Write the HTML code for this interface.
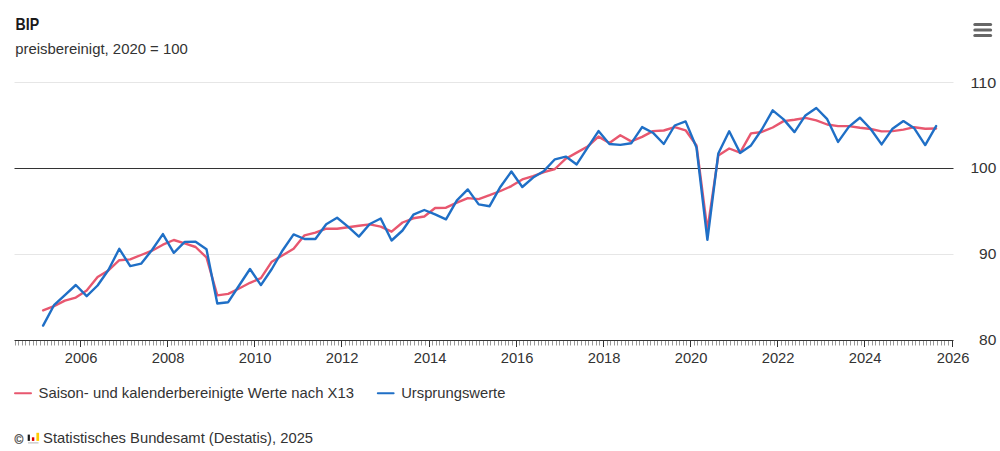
<!DOCTYPE html>
<html><head><meta charset="utf-8"><style>
html,body{margin:0;padding:0;background:#fff;}
body{width:1000px;height:451px;overflow:hidden;}
svg{display:block;font-family:"Liberation Sans", sans-serif;}
</style></head><body>
<svg width="1000" height="451" viewBox="0 0 1000 451">
<rect x="0" y="0" width="1000" height="451" fill="#ffffff"/>
<text x="15.5" y="29.7" font-size="16.6" font-weight="bold" fill="#1a1a1a" textLength="23.6" lengthAdjust="spacingAndGlyphs">BIP</text>
<text x="15.2" y="54.4" font-size="14.6" fill="#333333" textLength="172.6" lengthAdjust="spacingAndGlyphs">preisbereinigt, 2020 = 100</text>
<g fill="#666666">
<rect x="973.3" y="22.9" width="18.8" height="3" rx="1.5"/>
<rect x="973.3" y="28.5" width="18.8" height="3" rx="1.5"/>
<rect x="973.3" y="34.1" width="18.8" height="3" rx="1.5"/>
</g>
<g stroke="#e6e6e6" stroke-width="1" fill="none">
<path d="M 14.5 82.5 H 953.5"/>
<path d="M 14.5 254.5 H 953.5"/>
</g>
<path d="M 14.5 168.5 H 953.5" stroke="#333333" stroke-width="1"/>
<g font-size="14" fill="#333333">

<text x="996.3" y="87.7" text-anchor="end" textLength="25.8" lengthAdjust="spacingAndGlyphs">110</text>
<text x="996.3" y="173.4" text-anchor="end" textLength="25.8" lengthAdjust="spacingAndGlyphs">100</text>
<text x="996.3" y="259.4" text-anchor="end" textLength="17.3" lengthAdjust="spacingAndGlyphs">90</text>
<text x="996.3" y="345.3" text-anchor="end" textLength="17.3" lengthAdjust="spacingAndGlyphs">80</text>

<text x="81.1" y="363.2" text-anchor="middle" textLength="32.8" lengthAdjust="spacingAndGlyphs">2006</text>
<text x="168.1" y="363.2" text-anchor="middle" textLength="32.8" lengthAdjust="spacingAndGlyphs">2008</text>
<text x="255.1" y="363.2" text-anchor="middle" textLength="32.8" lengthAdjust="spacingAndGlyphs">2010</text>
<text x="342.1" y="363.2" text-anchor="middle" textLength="32.8" lengthAdjust="spacingAndGlyphs">2012</text>
<text x="430.1" y="363.2" text-anchor="middle" textLength="32.8" lengthAdjust="spacingAndGlyphs">2014</text>
<text x="517.1" y="363.2" text-anchor="middle" textLength="32.8" lengthAdjust="spacingAndGlyphs">2016</text>
<text x="604.1" y="363.2" text-anchor="middle" textLength="32.8" lengthAdjust="spacingAndGlyphs">2018</text>
<text x="691.1" y="363.2" text-anchor="middle" textLength="32.8" lengthAdjust="spacingAndGlyphs">2020</text>
<text x="778.1" y="363.2" text-anchor="middle" textLength="32.8" lengthAdjust="spacingAndGlyphs">2022</text>
<text x="865.1" y="363.2" text-anchor="middle" textLength="32.8" lengthAdjust="spacingAndGlyphs">2024</text>
<text x="953.1" y="363.2" text-anchor="middle" textLength="32.8" lengthAdjust="spacingAndGlyphs">2026</text>
</g>
<path d="M 15.5 340 V 345.5 M 18.5 340 V 345.5 M 22.5 340 V 345.5 M 25.5 340 V 345.5 M 29.5 340 V 345.5 M 33.5 340 V 345.5 M 36.5 340 V 345.5 M 40.5 340 V 345.5 M 44.5 340 V 345.5 M 47.5 340 V 345.5 M 51.5 340 V 345.5 M 54.5 340 V 345.5 M 58.5 340 V 345.5 M 62.5 340 V 345.5 M 65.5 340 V 345.5 M 69.5 340 V 345.5 M 73.5 340 V 345.5 M 76.5 340 V 345.5 M 84.5 340 V 345.5 M 87.5 340 V 345.5 M 91.5 340 V 345.5 M 94.5 340 V 345.5 M 98.5 340 V 345.5 M 102.5 340 V 345.5 M 105.5 340 V 345.5 M 109.5 340 V 345.5 M 113.5 340 V 345.5 M 116.5 340 V 345.5 M 120.5 340 V 345.5 M 123.5 340 V 345.5 M 127.5 340 V 345.5 M 131.5 340 V 345.5 M 134.5 340 V 345.5 M 138.5 340 V 345.5 M 142.5 340 V 345.5 M 145.5 340 V 345.5 M 149.5 340 V 345.5 M 153.5 340 V 345.5 M 156.5 340 V 345.5 M 160.5 340 V 345.5 M 163.5 340 V 345.5 M 171.5 340 V 345.5 M 174.5 340 V 345.5 M 178.5 340 V 345.5 M 182.5 340 V 345.5 M 185.5 340 V 345.5 M 189.5 340 V 345.5 M 192.5 340 V 345.5 M 196.5 340 V 345.5 M 200.5 340 V 345.5 M 203.5 340 V 345.5 M 207.5 340 V 345.5 M 211.5 340 V 345.5 M 214.5 340 V 345.5 M 218.5 340 V 345.5 M 222.5 340 V 345.5 M 225.5 340 V 345.5 M 229.5 340 V 345.5 M 232.5 340 V 345.5 M 236.5 340 V 345.5 M 240.5 340 V 345.5 M 243.5 340 V 345.5 M 247.5 340 V 345.5 M 251.5 340 V 345.5 M 258.5 340 V 345.5 M 262.5 340 V 345.5 M 265.5 340 V 345.5 M 269.5 340 V 345.5 M 272.5 340 V 345.5 M 276.5 340 V 345.5 M 280.5 340 V 345.5 M 283.5 340 V 345.5 M 287.5 340 V 345.5 M 291.5 340 V 345.5 M 294.5 340 V 345.5 M 298.5 340 V 345.5 M 301.5 340 V 345.5 M 305.5 340 V 345.5 M 309.5 340 V 345.5 M 312.5 340 V 345.5 M 316.5 340 V 345.5 M 320.5 340 V 345.5 M 323.5 340 V 345.5 M 327.5 340 V 345.5 M 331.5 340 V 345.5 M 334.5 340 V 345.5 M 338.5 340 V 345.5 M 345.5 340 V 345.5 M 349.5 340 V 345.5 M 352.5 340 V 345.5 M 356.5 340 V 345.5 M 360.5 340 V 345.5 M 363.5 340 V 345.5 M 367.5 340 V 345.5 M 370.5 340 V 345.5 M 374.5 340 V 345.5 M 378.5 340 V 345.5 M 381.5 340 V 345.5 M 385.5 340 V 345.5 M 389.5 340 V 345.5 M 392.5 340 V 345.5 M 396.5 340 V 345.5 M 400.5 340 V 345.5 M 403.5 340 V 345.5 M 407.5 340 V 345.5 M 410.5 340 V 345.5 M 414.5 340 V 345.5 M 418.5 340 V 345.5 M 421.5 340 V 345.5 M 425.5 340 V 345.5 M 432.5 340 V 345.5 M 436.5 340 V 345.5 M 439.5 340 V 345.5 M 443.5 340 V 345.5 M 447.5 340 V 345.5 M 450.5 340 V 345.5 M 454.5 340 V 345.5 M 458.5 340 V 345.5 M 461.5 340 V 345.5 M 465.5 340 V 345.5 M 469.5 340 V 345.5 M 472.5 340 V 345.5 M 476.5 340 V 345.5 M 479.5 340 V 345.5 M 483.5 340 V 345.5 M 487.5 340 V 345.5 M 490.5 340 V 345.5 M 494.5 340 V 345.5 M 498.5 340 V 345.5 M 501.5 340 V 345.5 M 505.5 340 V 345.5 M 508.5 340 V 345.5 M 512.5 340 V 345.5 M 519.5 340 V 345.5 M 523.5 340 V 345.5 M 527.5 340 V 345.5 M 530.5 340 V 345.5 M 534.5 340 V 345.5 M 538.5 340 V 345.5 M 541.5 340 V 345.5 M 545.5 340 V 345.5 M 548.5 340 V 345.5 M 552.5 340 V 345.5 M 556.5 340 V 345.5 M 559.5 340 V 345.5 M 563.5 340 V 345.5 M 567.5 340 V 345.5 M 570.5 340 V 345.5 M 574.5 340 V 345.5 M 577.5 340 V 345.5 M 581.5 340 V 345.5 M 585.5 340 V 345.5 M 588.5 340 V 345.5 M 592.5 340 V 345.5 M 596.5 340 V 345.5 M 599.5 340 V 345.5 M 607.5 340 V 345.5 M 610.5 340 V 345.5 M 614.5 340 V 345.5 M 617.5 340 V 345.5 M 621.5 340 V 345.5 M 625.5 340 V 345.5 M 628.5 340 V 345.5 M 632.5 340 V 345.5 M 636.5 340 V 345.5 M 639.5 340 V 345.5 M 643.5 340 V 345.5 M 647.5 340 V 345.5 M 650.5 340 V 345.5 M 654.5 340 V 345.5 M 657.5 340 V 345.5 M 661.5 340 V 345.5 M 665.5 340 V 345.5 M 668.5 340 V 345.5 M 672.5 340 V 345.5 M 676.5 340 V 345.5 M 679.5 340 V 345.5 M 683.5 340 V 345.5 M 686.5 340 V 345.5 M 694.5 340 V 345.5 M 697.5 340 V 345.5 M 701.5 340 V 345.5 M 705.5 340 V 345.5 M 708.5 340 V 345.5 M 712.5 340 V 345.5 M 716.5 340 V 345.5 M 719.5 340 V 345.5 M 723.5 340 V 345.5 M 726.5 340 V 345.5 M 730.5 340 V 345.5 M 734.5 340 V 345.5 M 737.5 340 V 345.5 M 741.5 340 V 345.5 M 745.5 340 V 345.5 M 748.5 340 V 345.5 M 752.5 340 V 345.5 M 755.5 340 V 345.5 M 759.5 340 V 345.5 M 763.5 340 V 345.5 M 766.5 340 V 345.5 M 770.5 340 V 345.5 M 774.5 340 V 345.5 M 781.5 340 V 345.5 M 785.5 340 V 345.5 M 788.5 340 V 345.5 M 792.5 340 V 345.5 M 795.5 340 V 345.5 M 799.5 340 V 345.5 M 803.5 340 V 345.5 M 806.5 340 V 345.5 M 810.5 340 V 345.5 M 814.5 340 V 345.5 M 817.5 340 V 345.5 M 821.5 340 V 345.5 M 824.5 340 V 345.5 M 828.5 340 V 345.5 M 832.5 340 V 345.5 M 835.5 340 V 345.5 M 839.5 340 V 345.5 M 843.5 340 V 345.5 M 846.5 340 V 345.5 M 850.5 340 V 345.5 M 854.5 340 V 345.5 M 857.5 340 V 345.5 M 861.5 340 V 345.5 M 868.5 340 V 345.5 M 872.5 340 V 345.5 M 875.5 340 V 345.5 M 879.5 340 V 345.5 M 883.5 340 V 345.5 M 886.5 340 V 345.5 M 890.5 340 V 345.5 M 893.5 340 V 345.5 M 897.5 340 V 345.5 M 901.5 340 V 345.5 M 904.5 340 V 345.5 M 908.5 340 V 345.5 M 912.5 340 V 345.5 M 915.5 340 V 345.5 M 919.5 340 V 345.5 M 923.5 340 V 345.5 M 926.5 340 V 345.5 M 930.5 340 V 345.5 M 933.5 340 V 345.5 M 937.5 340 V 345.5 M 941.5 340 V 345.5 M 944.5 340 V 345.5 M 948.5 340 V 345.5" stroke="#999999" stroke-width="1"/>
<path d="M 80.5 340 V 347 M 167.5 340 V 347 M 254.5 340 V 347 M 341.5 340 V 347 M 429.5 340 V 347 M 516.5 340 V 347 M 603.5 340 V 347 M 690.5 340 V 347 M 777.5 340 V 347 M 864.5 340 V 347 M 952.5 340 V 347" stroke="#333333" stroke-width="1"/>
<path d="M 14.5 340.5 H 953.5" stroke="#333333" stroke-width="1"/>
<path d="M 43.1 310.4 L 54.0 306.1 L 64.9 300.6 L 75.8 297.6 L 86.7 290.5 L 97.6 277.0 L 108.4 270.5 L 119.3 260.2 L 130.2 259.4 L 141.1 255.0 L 152.0 250.7 L 162.9 244.7 L 173.8 240.0 L 184.7 243.3 L 195.6 247.0 L 206.5 257.5 L 217.3 295.4 L 228.2 293.9 L 239.1 288.5 L 250.0 282.8 L 260.9 278.2 L 271.8 261.7 L 282.7 255.3 L 293.6 248.8 L 304.5 235.3 L 315.4 232.7 L 326.2 228.6 L 337.1 228.8 L 348.0 227.2 L 358.9 225.8 L 369.8 224.4 L 380.7 226.6 L 391.6 231.7 L 402.5 222.5 L 413.4 218.3 L 424.3 216.5 L 435.1 208.0 L 446.0 207.7 L 456.9 202.7 L 467.8 198.1 L 478.7 199.1 L 489.6 195.2 L 500.5 191.0 L 511.4 186.1 L 522.3 179.4 L 533.1 176.2 L 544.0 172.1 L 554.9 169.0 L 565.8 158.7 L 576.7 152.6 L 587.6 146.5 L 598.5 136.6 L 609.4 143.0 L 620.3 135.3 L 631.2 141.4 L 642.1 136.9 L 652.9 131.1 L 663.8 130.5 L 674.7 127.2 L 685.6 130.3 L 696.5 145.5 L 707.4 230.0 L 718.3 155.6 L 729.2 148.5 L 740.1 152.7 L 751.0 133.4 L 761.8 132.0 L 772.7 127.5 L 783.6 121.1 L 794.5 119.7 L 805.4 117.9 L 816.3 120.4 L 827.2 124.5 L 838.1 126.1 L 849.0 126.1 L 859.9 127.7 L 870.7 129.0 L 881.6 131.4 L 892.5 131.1 L 903.4 129.6 L 914.3 127.2 L 925.2 128.8 L 936.1 128.5" stroke="#e8576f" stroke-width="2.4" fill="none" stroke-linejoin="round" stroke-linecap="round"/>
<path d="M 43.1 325.6 L 54.0 305.2 L 64.9 295.1 L 75.8 285.0 L 86.7 296.2 L 97.6 285.5 L 108.4 270.0 L 119.3 248.8 L 130.2 266.1 L 141.1 263.7 L 152.0 250.0 L 162.9 234.1 L 173.8 252.8 L 184.7 241.9 L 195.6 241.8 L 206.5 249.3 L 217.3 303.5 L 228.2 302.2 L 239.1 285.5 L 250.0 269.0 L 260.9 285.1 L 271.8 269.0 L 282.7 250.2 L 293.6 234.4 L 304.5 239.0 L 315.4 239.0 L 326.2 224.2 L 337.1 217.7 L 348.0 226.6 L 358.9 236.6 L 369.8 224.0 L 380.7 218.5 L 391.6 240.5 L 402.5 230.5 L 413.4 214.7 L 424.3 210.0 L 435.1 214.4 L 446.0 219.3 L 456.9 200.3 L 467.8 189.4 L 478.7 204.4 L 489.6 206.2 L 500.5 186.7 L 511.4 171.5 L 522.3 187.0 L 533.1 177.6 L 544.0 170.9 L 554.9 159.3 L 565.8 156.6 L 576.7 164.4 L 587.6 147.7 L 598.5 131.1 L 609.4 144.0 L 620.3 144.9 L 631.2 143.3 L 642.1 127.1 L 652.9 132.7 L 663.8 144.0 L 674.7 125.5 L 685.6 121.4 L 696.5 147.5 L 707.4 239.8 L 718.3 153.5 L 729.2 131.3 L 740.1 152.9 L 751.0 145.4 L 761.8 129.5 L 772.7 110.3 L 783.6 119.4 L 794.5 132.1 L 805.4 115.4 L 816.3 108.0 L 827.2 119.2 L 838.1 141.9 L 849.0 126.6 L 859.9 117.7 L 870.7 129.0 L 881.6 144.4 L 892.5 128.8 L 903.4 121.1 L 914.3 128.3 L 925.2 145.1 L 936.1 126.1" stroke="#1f6fc6" stroke-width="2.4" fill="none" stroke-linejoin="round" stroke-linecap="round"/>
<g font-size="14.6" fill="#333333">
<line x1="15" y1="393.3" x2="31" y2="393.3" stroke="#e8576f" stroke-width="2" stroke-linecap="round"/>
<text x="38.5" y="397.6" textLength="315.4" lengthAdjust="spacingAndGlyphs">Saison- und kalenderbereinigte Werte nach X13</text>
<line x1="377.8" y1="393.3" x2="393.6" y2="393.3" stroke="#1f6fc6" stroke-width="2" stroke-linecap="round"/>
<text x="401.2" y="397.6" textLength="104.2" lengthAdjust="spacingAndGlyphs">Ursprungswerte</text>
</g>
<g>
<text x="14.6" y="443.6" font-size="12" fill="#555" stroke="#555" stroke-width="0.35">©</text>
<rect x="27.7" y="434.6" width="2.2" height="6.3" fill="#1a1a1a"/>
<rect x="31.9" y="437.3" width="2.4" height="3.6" fill="#dd0000"/>
<rect x="36.4" y="432.8" width="2.7" height="8.1" fill="#ffcc00"/>
<rect x="28" y="442.4" width="10.5" height="1" fill="#b5b5b5"/>
<text x="43.1" y="442.7" font-size="14.6" fill="#333333" textLength="270" lengthAdjust="spacingAndGlyphs">Statistisches Bundesamt (Destatis), 2025</text>
</g>
</svg>
</body></html>
